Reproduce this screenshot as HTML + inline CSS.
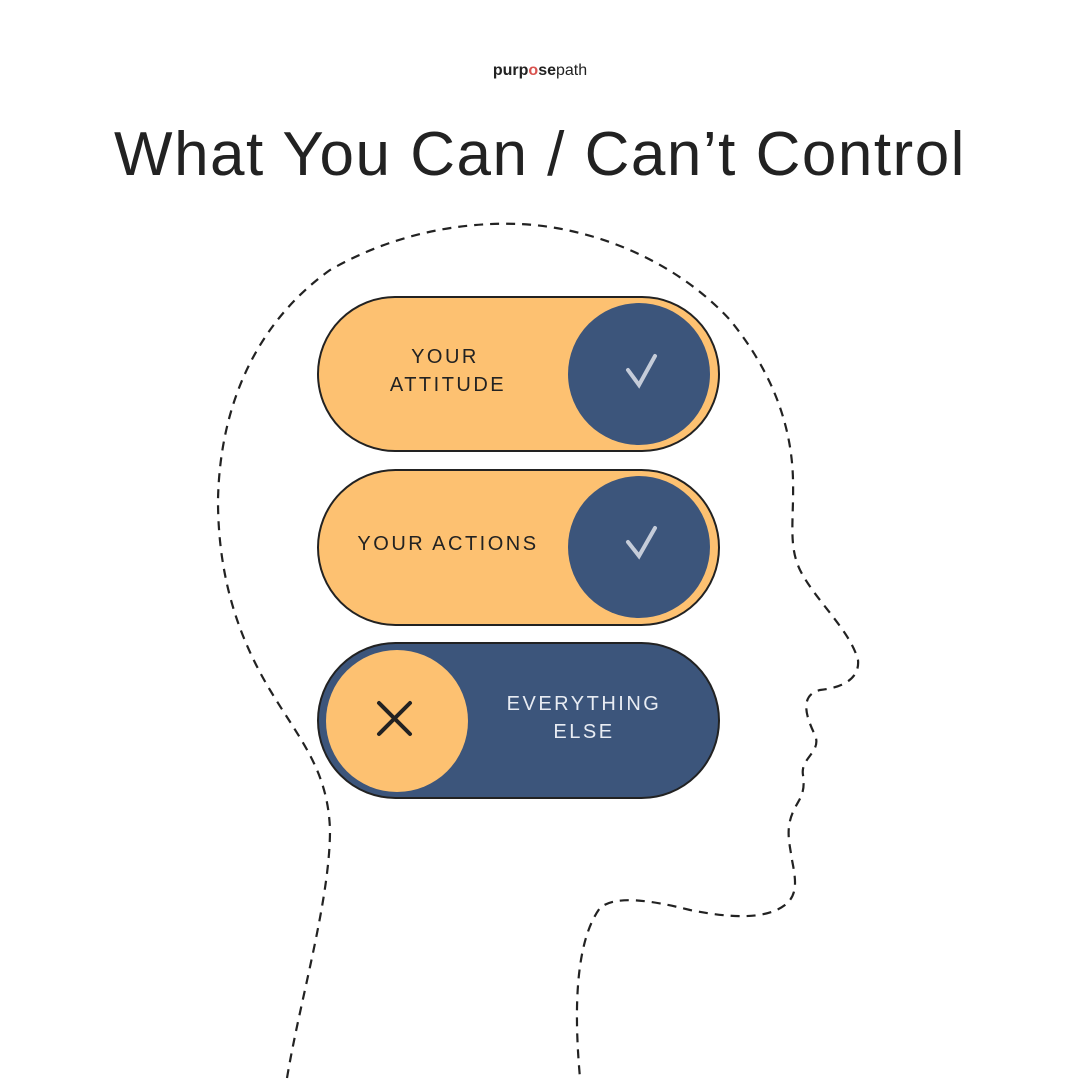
<!DOCTYPE html>
<html><head><meta charset="utf-8"><style>
body{margin:0;width:1080px;height:1080px;background:#fff;overflow:hidden;font-family:"Liberation Sans",sans-serif}
</style></head><body>
<svg width="1080" height="1080" viewBox="0 0 1080 1080" xmlns="http://www.w3.org/2000/svg">
<text x="540" y="75" text-anchor="middle" font-family="Liberation Sans, sans-serif" font-size="16" fill="#222"><tspan font-weight="bold">purp</tspan><tspan font-weight="bold" fill="#d9534f">o</tspan><tspan font-weight="bold">se</tspan>path</text>
<text x="540" y="175" text-anchor="middle" font-family="Liberation Sans, sans-serif" font-size="62" fill="#222" letter-spacing="1.5">What You Can / Can’t Control</text>
<path d="M287,1078 C300,1000 330,900 330,830 C328,770 300,740 270,690 C240,640 218,580 218,500 C220,400 260,320 330,270 C400,230 470,222 520,224 C600,228 680,265 730,320 C775,375 792,430 793,480 C794,520 788,545 800,570 C815,600 850,630 858,660 C860,680 840,688 820,690 C800,695 805,715 815,735 C822,752 800,758 803,775 C806,795 798,800 793,812 C785,830 790,845 792,860 C796,880 798,895 785,905 C765,920 730,918 690,910 C650,900 615,895 600,908 C580,935 572,990 580,1078" fill="none" stroke="#222" stroke-width="2.2" stroke-dasharray="9 7"/>
<g stroke="#222" stroke-width="2">
<rect x="318" y="297" width="401" height="154" rx="77" fill="#fdc171"/>
<rect x="318" y="470" width="401" height="155" rx="77.5" fill="#fdc171"/>
<rect x="318" y="643" width="401" height="155" rx="77.5" fill="#3c557b"/>
</g>
<circle cx="639" cy="374" r="71" fill="#3c557b"/>
<circle cx="639" cy="547" r="71" fill="#3c557b"/>
<circle cx="397" cy="721" r="71" fill="#fdc171"/>
<g stroke="#c5ccd9" stroke-width="4" fill="none" stroke-linecap="round">
<path d="M628,370 L639,385 L655,356"/>
<path d="M628,542 L639,556 L655,528"/>
</g>
<path d="M379,703 L410,734 M410,703 L379,734" stroke="#222" stroke-width="4" stroke-linecap="round"/>
<g font-family="Liberation Sans, sans-serif" font-size="20" letter-spacing="2.5" text-anchor="middle">
<text x="445" y="363" fill="#222">YOUR</text>
<text x="448" y="391" fill="#222">ATTITUDE</text>
<text x="448" y="550" fill="#222">YOUR ACTIONS</text>
<text x="584" y="710" fill="#e8ecf3">EVERYTHING</text>
<text x="584" y="738" fill="#e8ecf3">ELSE</text>
</g>
</svg>
</body></html>
